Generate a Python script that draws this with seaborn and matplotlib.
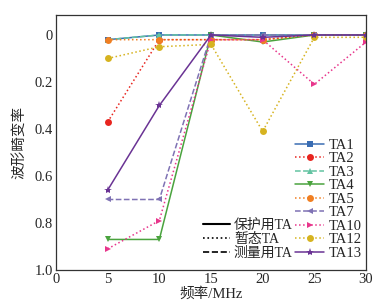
import matplotlib
matplotlib.use("Agg")
import matplotlib.pyplot as plt
import seaborn as sns
import pandas as pd
from matplotlib.lines import Line2D

freq = [5, 10, 15, 20, 25, 30]
TA1 = [0.02, 0.00, 0.00, 0.00, 0.00, 0.00]
TA2 = [0.37, 0.02, 0.02, 0.02, 0.00, 0.00]
TA3 = [0.02, 0.00, 0.00, 0.00, 0.00, 0.00]
TA4 = [0.87, 0.87, 0.00, 0.03, 0.00, 0.00]
TA5 = [0.02, 0.02, 0.02, 0.02, 0.00, 0.00]
TA7 = [0.70, 0.70, 0.00, 0.00, 0.00, 0.00]
TA10 = [0.91, 0.79, 0.02, 0.02, 0.21, 0.03]
TA12 = [0.10, 0.05, 0.04, 0.41, 0.01, 0.01]
TA13 = [0.66, 0.30, 0.00, 0.01, 0.00, 0.00]

names = ["TA1", "TA2", "TA3", "TA4", "TA5", "TA7", "TA10", "TA12", "TA13"]
values = [TA1, TA2, TA3, TA4, TA5, TA7, TA10, TA12, TA13]
colors = ["#3a6db3", "#e8251f", "#63c3a2", "#4aa33e", "#f07f22",
          "#7f72b4", "#e8368c", "#d6b320", "#6a3394"]
styles = ["-", ":", "--", "-", ":", "--", ":", ":", "-"]
markers = ["s", "o", "^", "v", "o", "<", ">", "o", "*"]

sns.set_style("white")
plt.rcParams['font.family'] = ['Liberation Serif', 'Noto Sans CJK SC', 'DejaVu Sans']
plt.rcParams['axes.unicode_minus'] = False

fig = plt.figure(figsize=(3.81, 3.06), dpi=100)
ax = fig.add_axes([56/381, 36/306, 310/381, 255/306])

handles = []
for n, v, c, ls, m in zip(names, values, colors, styles, markers):
    df = pd.DataFrame({"x": freq, "y": v})
    sns.lineplot(data=df, x="x", y="y", ax=ax, color=c, linestyle=ls,
                 marker=m, markersize=5 if m != "*" else 6, markeredgewidth=0,
                 linewidth=1.1)
    handles.append(Line2D([], [], color=c, linestyle=ls, marker=m,
                          markersize=5 if m != "*" else 6, markeredgewidth=0, linewidth=1.1))

ax.set_xlim(0, 30)
ax.set_ylim(1.0, -0.085)
ax.set_xticks([0, 5, 10, 15, 20, 25, 30])
ax.set_yticks([0, 0.2, 0.4, 0.6, 0.8, 1.0])
ax.set_yticklabels(["0", "0.2", "0.4", "0.6", "0.8", "1.0"])
ax.tick_params(labelsize=10.5, direction="in", length=2, color="#333333", pad=2)
for s in ax.spines.values():
    s.set_color("#333333")
    s.set_linewidth(0.9)
ax.set_xlabel("频率/MHz", fontsize=10.5, labelpad=1)
ax.set_ylabel("波形畸变率", fontsize=10.5, labelpad=6)

leg1 = ax.legend(handles, names, loc="lower right", bbox_to_anchor=(1.02, 0.0),
                 frameon=False, fontsize=10.5, handlelength=2.0, handletextpad=0.3,
                 labelspacing=0.02, borderpad=0.2)
ax.add_artist(leg1)
sh = [Line2D([], [], color="black", linestyle="-", linewidth=1.5),
      Line2D([], [], color="black", linestyle=":", linewidth=1.2),
      Line2D([], [], color="black", linestyle="--", linewidth=1.2)]
ax.legend(sh, ["保护用TA", "暂态TA", "测量用TA"], loc="lower right",
          bbox_to_anchor=(0.795, 0.0), frameon=False, fontsize=10,
          handlelength=1.9, handletextpad=0.3, labelspacing=0.07, borderpad=0.2)

fig.savefig("out.png", dpi=100)
